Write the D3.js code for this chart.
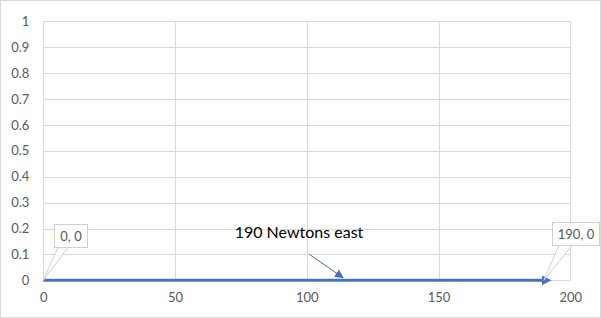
<!DOCTYPE html>
<html><head><meta charset="utf-8">
<script src="https://cdn.jsdelivr.net/npm/d3@7"></script>
<style>
html,body{margin:0;padding:0;background:#fff;}
svg{display:block;font-family:Lato,"Open Sans",sans-serif;}
</style></head>
<body>
<script>
const xValues = [0, 190];
const yValues = [0, 0];
const pointLabels = ["0, 0", "190, 0"];
const xTicks = [0, 50, 100, 150, 200];
const yTicks = [0, 0.1, 0.2, 0.3, 0.4, 0.5, 0.6, 0.7, 0.8, 0.9, 1];
const annotation = "190 Newtons east";

const W = 601, H = 318;
const svg = d3.select("body").append("svg").attr("width", W).attr("height", H);

svg.append("rect").attr("x", 0.5).attr("y", 0.5).attr("width", W - 1).attr("height", H - 1)
  .attr("fill", "#fff").attr("stroke", "#d9d9d9");

const x = d3.scaleLinear().domain([0, 200]).range([43.3, 570.3]);
const y = d3.scaleLinear().domain([0, 1]).range([280.3, 21.3]);

const defs = svg.append("defs");
defs.append("marker").attr("id", "arr").attr("viewBox", "0 0 10 10")
  .attr("refX", 2).attr("refY", 5).attr("markerWidth", 3.2).attr("markerHeight", 3.2)
  .attr("orient", "auto").attr("markerUnits", "strokeWidth")
  .append("path").attr("d", "M0,0 L10,5 L0,10 Z").attr("fill", "#4472c4");
defs.append("marker").attr("id", "arr2").attr("viewBox", "0 0 10 10")
  .attr("refX", 8).attr("refY", 5).attr("markerWidth", 9).attr("markerHeight", 9)
  .attr("orient", "auto").attr("markerUnits", "userSpaceOnUse")
  .append("path").attr("d", "M0,0 L10,5 L0,10 Z").attr("fill", "#4472c4");

svg.append("g").selectAll("line").data(yTicks).join("line")
  .attr("x1", x(0)).attr("x2", x(200)).attr("y1", d => Math.round(y(d)) + 0.5).attr("y2", d => Math.round(y(d)) + 0.5)
  .attr("stroke", "#d9d9d9").attr("stroke-width", 1);
svg.append("g").selectAll("line").data(xTicks).join("line")
  .attr("y1", y(0)).attr("y2", y(1)).attr("x1", d => Math.round(x(d)) + 0.5).attr("x2", d => Math.round(x(d)) + 0.5)
  .attr("stroke", "#d9d9d9").attr("stroke-width", 1);

const yAxis = d3.axisLeft(y).tickValues(yTicks).tickSize(0).tickPadding(14).tickFormat(d3.format("~g"));
const gy = svg.append("g").attr("transform", `translate(${x(0)},0)`).call(yAxis);
gy.select(".domain").remove();
gy.selectAll("text").attr("fill", "#595959").style("font-size", "13px").style("font-family", "Lato,'Open Sans',sans-serif");

const xAxis = d3.axisBottom(x).tickValues(xTicks).tickSize(0).tickPadding(12).tickFormat(d3.format("~g"));
const gx = svg.append("g").attr("transform", `translate(0,${y(0)})`).call(xAxis);
gx.select(".domain").remove();
gx.selectAll("text").attr("fill", "#595959").style("font-size", "13px").style("font-family", "Lato,'Open Sans',sans-serif");

const pts = xValues.map((v, i) => [v, yValues[i]]);
svg.append("path").datum(pts)
  .attr("d", d3.line().x(d => x(d[0])).y(d => y(d[1])))
  .attr("fill", "none").attr("stroke", "#4472c4").attr("stroke-width", 3)
  .attr("marker-end", "url(#arr)");

const labelBoxes = [
  {x0: 54.5, y0: 224.5, w: 33, h: 23, tipX: 58, tipX2: 68},
  {x0: 552.5, y0: 222.5, w: 47, h: 23, tipX: 559, tipX2: 572}
];
pts.forEach((p, i) => {
  const b = labelBoxes[i];
  const px = x(p[0]), py = y(p[1]);
  const g = svg.append("g");
  g.append("path")
    .attr("d", `M${b.tipX},${b.y0 + b.h} L${px},${py} L${b.tipX2},${b.y0 + b.h}`)
    .attr("fill", "#fff").attr("stroke", "#d0d0d0").attr("stroke-width", 1);
  g.append("rect").attr("x", b.x0).attr("y", b.y0).attr("width", b.w).attr("height", b.h)
    .attr("fill", "#fff").attr("stroke", "#d0d0d0").attr("stroke-width", 1);
  g.append("text").attr("x", b.x0 + b.w / 2).attr("y", b.y0 + b.h / 2 + 4.5)
    .attr("text-anchor", "middle").attr("fill", "#595959").style("font-size", "13px")
    .text(pointLabels[i]);
});

svg.append("text").attr("x", 299).attr("y", 238).attr("text-anchor", "middle")
  .attr("fill", "#000").style("font-size", "16px").text(annotation);
svg.append("line").attr("x1", x(101)).attr("y1", y(0.1)).attr("x2", x(113.5)).attr("y2", y(0.012))
  .attr("stroke", "#4a6fa5").attr("stroke-width", 1).attr("marker-end", "url(#arr2)");
</script>
</body></html>
